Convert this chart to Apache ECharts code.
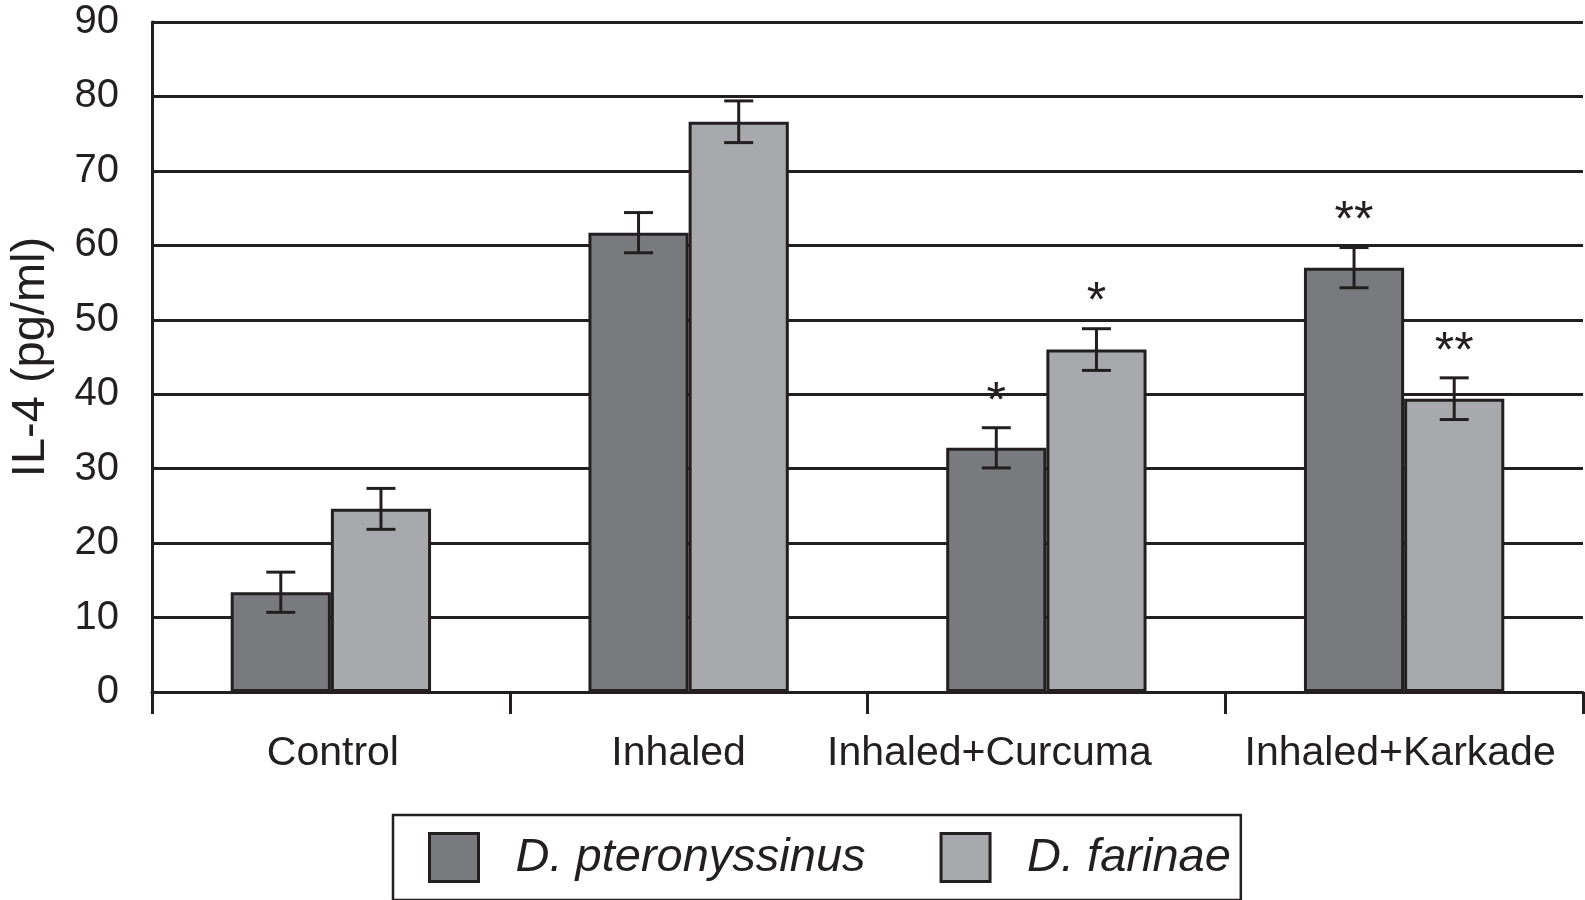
<!DOCTYPE html>
<html>
<head>
<meta charset="utf-8">
<script src="https://cdn.jsdelivr.net/npm/echarts@6/dist/echarts.min.js"></script>
<style>
html,body{margin:0;padding:0;background:#fff;}
#chart{width:1585px;height:900px;}
</style>
</head>
<body>
<div id="chart"></div>
<script>
// ---- data ----
const categories = ['Control', 'Inhaled', 'Inhaled+Curcuma', 'Inhaled+Karkade'];
const seriesNames = ['D. pteronyssinus', 'D. farinae'];
const pteronyssinus = [13.4, 61.7, 32.8, 57.0];
const pteronyssinusErr = [2.7, 2.7, 2.7, 2.7];
const farinae = [24.6, 76.6, 46.0, 39.4];
const farinaeErr = [2.75, 2.8, 2.8, 2.8];
const pteronyssinusMarks = ['', '', '*', '**'];
const farinaeMarks = ['', '', '*', '**'];
const yTicks = [0, 10, 20, 30, 40, 50, 60, 70, 80, 90];

// ---- style ----
const INK = '#231f20';
const DARK = '#797a7d';
const LIGHT = '#a7a9ac';
const FONT = "'Liberation Sans', Arial, sans-serif";
const BAR_FRAC = 0.28;
const labelShift = [4, -20, -114, -8]; // padding trick to nudge category labels

const chart = echarts.init(document.getElementById('chart'), null, {renderer: 'canvas'});

function errSeries(values, errs, marks, side) {
  const data = values.map((v, i) => [i, v, errs[i], marks[i]]);
  return {
    type: 'custom',
    z: 10,
    silent: true,
    data: data,
    encode: {x: 0, y: 1},
    renderItem: function (params, api) {
      const idx = api.value(0);
      const v = api.value(1);
      const e = api.value(2);
      const mark = data[params.dataIndex][3];
      const band = api.size([1, 0])[0];
      const cx = api.coord([idx, v])[0] + side * band * BAR_FRAC / 2;
      const yTop = api.coord([idx, v + e])[1];
      const yBot = api.coord([idx, v - e])[1];
      const cap = 14.5;
      const ls = {stroke: INK, lineWidth: 3};
      const children = [
        {type: 'line', shape: {x1: cx, y1: yTop, x2: cx, y2: yBot}, style: ls},
        {type: 'line', shape: {x1: cx - cap, y1: yTop, x2: cx + cap, y2: yTop}, style: ls},
        {type: 'line', shape: {x1: cx - cap, y1: yBot, x2: cx + cap, y2: yBot}, style: ls}
      ];
      if (mark) {
        children.push({
          type: 'text',
          style: {
            text: mark, x: cx, y: yTop - 25,
            align: 'center', verticalAlign: 'middle',
            font: '50px ' + FONT, fill: INK
          }
        });
      }
      return {type: 'group', children: children};
    }
  };
}

const option = {
  animation: false,
  backgroundColor: '#fff',
  textStyle: {fontFamily: FONT, color: INK},
  grid: {left: 150, right: 2, top: 22, bottom: 208, containLabel: false},
  legend: {
    data: seriesNames,
    left: 393, top: 815,
    padding: [17, 10, 17, 35],
    itemWidth: 49, itemHeight: 48,
    itemGap: 74,
    borderColor: INK, borderWidth: 2.5,
    icon: 'rect',
    itemStyle: {borderColor: INK, borderWidth: 3},
    textStyle: {fontFamily: FONT, fontStyle: 'italic', fontSize: 47, color: INK, padding: [0, 0, 0, 32]}
  },
  xAxis: {
    type: 'category',
    data: categories,
    boundaryGap: true,
    axisLine: {show: true, lineStyle: {color: INK, width: 3}},
    axisTick: {show: true, length: 22, lineStyle: {color: INK, width: 3}},
    axisLabel: {
      interval: 0, margin: 41,
      fontSize: 41, fontFamily: FONT, color: INK,
      formatter: function (v, i) { return '{s' + i + '|' + v + '}'; },
      rich: (function () {
        const r = {};
        labelShift.forEach(function (d, i) {
          r['s' + i] = {
            fontSize: 41, fontFamily: FONT, color: INK,
            padding: d >= 0 ? [0, 0, 0, d] : [0, -d, 0, 0]
          };
        });
        return r;
      })()
    }
  },
  yAxis: {
    type: 'value',
    min: yTicks[0], max: yTicks[yTicks.length - 1], interval: yTicks[1] - yTicks[0],
    name: 'IL-4 (pg/ml)',
    nameLocation: 'middle',
    nameGap: 97,
    nameTextStyle: {fontSize: 47, fontFamily: FONT, color: INK},
    axisLine: {show: true, lineStyle: {color: INK, width: 3}},
    axisTick: {show: false},
    axisLabel: {margin: 33, fontSize: 40, fontFamily: FONT, color: INK},
    splitLine: {show: true, lineStyle: {color: INK, width: 3}}
  },
  series: [
    {
      name: seriesNames[0], type: 'bar', data: pteronyssinus,
      barWidth: (BAR_FRAC * 100) + '%', barGap: '0%',
      itemStyle: {color: DARK, borderColor: INK, borderWidth: 3},
      z: 3
    },
    {
      name: seriesNames[1], type: 'bar', data: farinae,
      barWidth: (BAR_FRAC * 100) + '%', barGap: '0%',
      itemStyle: {color: LIGHT, borderColor: INK, borderWidth: 3},
      z: 3
    },
    errSeries(pteronyssinus, pteronyssinusErr, pteronyssinusMarks, -1),
    errSeries(farinae, farinaeErr, farinaeMarks, 1)
  ]
};
chart.setOption(option);
</script>
</body>
</html>
